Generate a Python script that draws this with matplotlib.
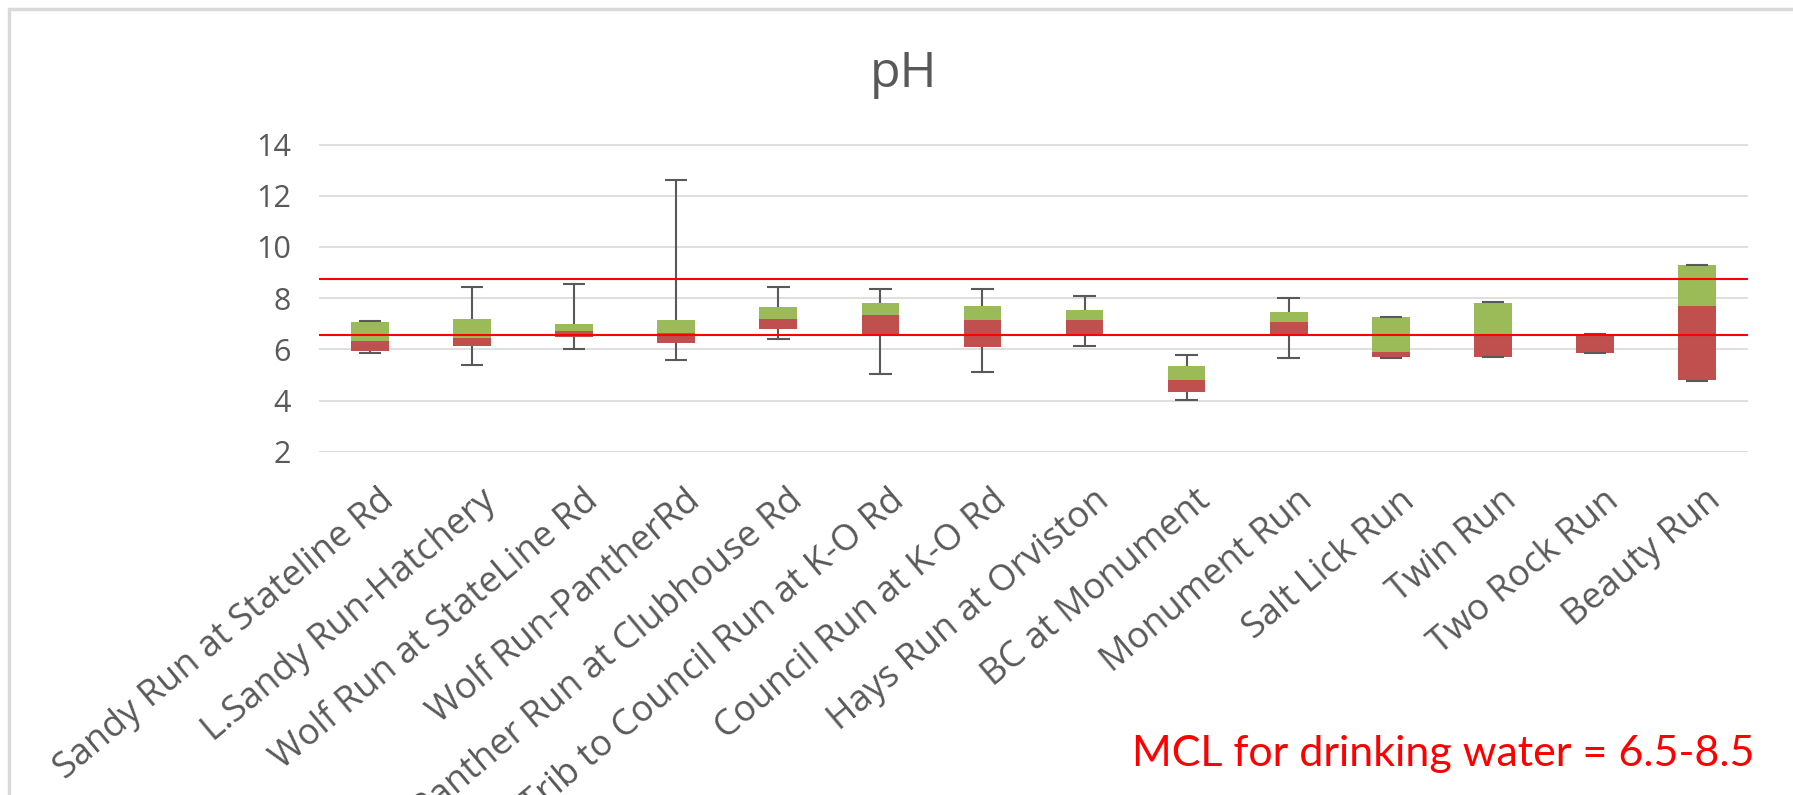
import numpy as np
import matplotlib
matplotlib.use('Agg')
import matplotlib.pyplot as plt
from matplotlib.patches import Rectangle
from matplotlib.transforms import ScaledTranslation

categories = ['Sandy Run at Stateline Rd', 'L.Sandy Run-Hatchery', 'Wolf Run at StateLine Rd',
              'Wolf Run-PantherRd', 'Panther Run at Clubhouse Rd', 'Trib to Council Run at K-O Rd',
              'Council Run at K-O Rd', 'Hays Run at Orviston', 'BC at Monument', 'Monument Run',
              'Salt Lick Run', 'Twin Run', 'Two Rock Run', 'Beauty Run']
mins    = [5.87, 5.38, 6.00, 5.60, 6.42, 5.03, 5.11, 6.13, 4.01, 5.66, 5.66, 5.71, 5.86, 4.76]
q1      = [5.92, 6.12, 6.47, 6.26, 6.81, 6.61, 6.10, 6.61, 4.33, 6.55, 5.70, 5.71, 5.86, 4.81]
medians = [6.31, 6.44, 6.72, 6.65, 7.20, 7.35, 7.14, 7.14, 4.80, 7.07, 5.89, 6.55, 6.58, 7.69]
q3      = [7.07, 7.19, 6.99, 7.13, 7.67, 7.82, 7.69, 7.54, 5.33, 7.46, 7.25, 7.82, 6.58, 9.29]
maxs    = [7.10, 8.42, 8.55, 12.62, 8.42, 8.34, 8.34, 8.08, 5.79, 7.99, 7.25, 7.86, 6.60, 9.31]
yticks = [2, 4, 6, 8, 10, 12, 14]
mcl_lines = [6.55, 8.75]  # red lines as drawn on the chart

def main():
    W, H = 1793, 795
    fig = plt.figure(figsize=(W/100, H/100), dpi=100)
    ax = fig.add_axes([319/W, (H-452)/H, 1429/W, 308/H])

    x = np.arange(len(categories))
    mn, a, md, b, mx = (np.array(v) for v in (mins, q1, medians, q3, maxs))
    bw = 0.37

    ax.set_xlim(-0.5, len(categories)-0.5)
    ax.set_ylim(1.99, 14.02)
    for v in yticks:
        ax.axhline(v, color='#d9d9d9', lw=1.2, zorder=0)

    ax.bar(x, md-a, bw, bottom=a, color='#c0504d', zorder=2)
    ax.bar(x, b-md, bw, bottom=md, color='#9bbb59', zorder=2)
    # whiskers
    ax.vlines(x, b, mx, color='#595959', lw=1.5, zorder=3)
    ax.vlines(x, mn, a, color='#595959', lw=1.5, zorder=3)
    cw = 0.11
    ax.hlines(mx, x-cw, x+cw, color='#595959', lw=1.5, zorder=3)
    ax.hlines(mn, x-cw, x+cw, color='#595959', lw=1.5, zorder=3)

    for v in mcl_lines:
        ax.axhline(v, color='#ff0000', lw=1.5, zorder=4)

    for s in ax.spines.values():
        s.set_visible(False)
    ax.set_yticks(yticks)
    ax.set_yticklabels([str(v) for v in yticks], fontsize=22, color='#595959', family='Open Sans')
    ax.tick_params(axis='y', length=0, pad=20)
    ax.set_xticks(x)
    ax.set_xticklabels(categories, rotation=40, ha='right', va='center', rotation_mode='anchor',
                       fontsize=26, color='#595959', family='Open Sans')
    ax.tick_params(axis='x', length=0, pad=32)
    for lab in ax.get_xticklabels():
        lab.set_transform(lab.get_transform() + ScaledTranslation(0.2, 0, fig.dpi_scale_trans))

    fig.text(903/W, 1-87/H, 'pH', ha='center', va='baseline', fontsize=36, color='#595959', family='Open Sans')
    fig.text(1754/W, 1-766/H, 'MCL for drinking water = 6.5-8.5', ha='right', va='baseline',
             fontsize=31, color='#ff0000', family='Lato')

    fig.add_artist(Rectangle((9/W, -0.1), 1.2, 1.1-9/H, transform=fig.transFigure,
                             fill=False, edgecolor='#d9d9d9', lw=2.5))
    fig.savefig('out.png', dpi=100, facecolor='white')

if __name__ == '__main__':
    main()
